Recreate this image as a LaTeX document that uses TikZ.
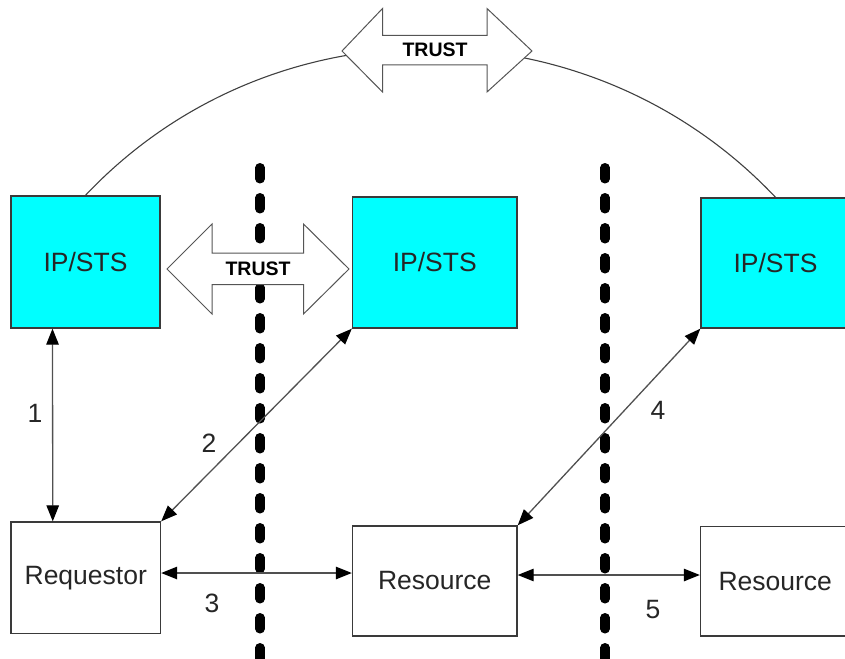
\documentclass[tikz,border=0pt]{standalone}
\usepackage{fontspec}
\setmainfont{Liberation Sans}
\usetikzlibrary{arrows.meta}
\definecolor{stscyan}{HTML}{00FFFF}
\definecolor{boxline}{HTML}{3A3A3A}
\definecolor{connline}{HTML}{505050}
\definecolor{trustline}{HTML}{555555}
\begin{document}
\begin{tikzpicture}[x=1pt,y=-1pt,
  boxtext/.style={font=\fontsize{26.5}{30}\selectfont, text=black!85},
  ipbox/.style={boxtext, draw=boxline, fill=stscyan, line width=1.4pt, inner sep=0pt},
  plainbox/.style={boxtext, draw=boxline, fill=white, line width=1.4pt, inner sep=0pt},
  numlabel/.style={boxtext, inner sep=0pt},
  trusttext/.style={font=\bfseries\fontsize{19.5}{22}\selectfont, inner sep=0pt},
  trustarrow/.style={draw=trustline, fill=white, line width=1pt, line join=miter},
  conn/.style={draw=connline, line width=1.3pt,
    {Triangle[length=16pt,width=12.5pt,color=black]}-{Triangle[length=16pt,width=12.5pt,color=black]}},
  divider/.style={draw=black, line width=9.5pt, line cap=round, dash pattern=on 11pt off 19pt},
  arcline/.style={draw=black!75, line width=1.1pt}
]
\useasboundingbox (0,0) rectangle (845,658);

% dividers
\draw[divider] (260,167.75) -- (260,690);
\draw[divider] (605,167.75) -- (605,690);

% boxes
\node[ipbox, minimum width=149pt, minimum height=132pt] (ipA) at (85.5,262) {IP/STS};
\node[ipbox, minimum width=164.5pt, minimum height=131pt] (ipB) at (434.75,262.5) {IP/STS};
\node[ipbox, minimum width=149pt, minimum height=130pt] (ipC) at (775.5,263) {IP/STS};
\node[plainbox, minimum width=149.5pt, minimum height=111.5pt] (req) at (85.75,577.75) {Requestor};
\node[plainbox, minimum width=164.5pt, minimum height=110pt] (resB) at (434.75,581) {Resource};
\node[plainbox, minimum width=149.5pt, minimum height=109.5pt] (resC) at (775.25,581.25) {Resource};

% big trust arc
\draw[arcline] (ipA.north) .. controls +(186.5,-197.3) and +(-186.5,-197.3) .. (ipC.north);

% top TRUST arrow
\draw[trustarrow] (342,51) -- (382.5,8.5) -- (382.5,35.5) -- (487,35.5) -- (487,8.5)
  -- (532,51) -- (487,92) -- (487,65) -- (382.5,65) -- (382.5,92) -- cycle;
\node[trusttext] (trustTop) at (435,50) {TRUST};

% lower TRUST arrow
\draw[trustarrow] (167,269) -- (212,224) -- (212,253) -- (303.5,253) -- (303.5,224)
  -- (349,269) -- (303.5,314) -- (303.5,284.5) -- (212,284.5) -- (212,314) -- cycle;
\node[trusttext] (trustLow) at (258,268.5) {TRUST};

% connectors
\draw[conn] ([xshift=-33pt]ipA.south) -- ([xshift=-33pt]req.north);
\draw[conn] (req.north east) -- (ipB.south west);
\draw[conn] ([yshift=4.75pt]req.east) -- ([yshift=4.75pt]req.east -| resB.west);
\draw[conn] (resB.north east) -- (ipC.south west);
\draw[conn] ([yshift=6pt]resB.east) -- ([yshift=6pt]resB.east -| resC.west);

% labels
\node[numlabel] (n1) at (35,413) {1};
\node[numlabel] (n2) at (209,443) {2};
\node[numlabel] (n3) at (212,603) {3};
\node[numlabel] (n4) at (658,410) {4};
\node[numlabel] (n5) at (653,610) {5};
\end{tikzpicture}
\end{document}
